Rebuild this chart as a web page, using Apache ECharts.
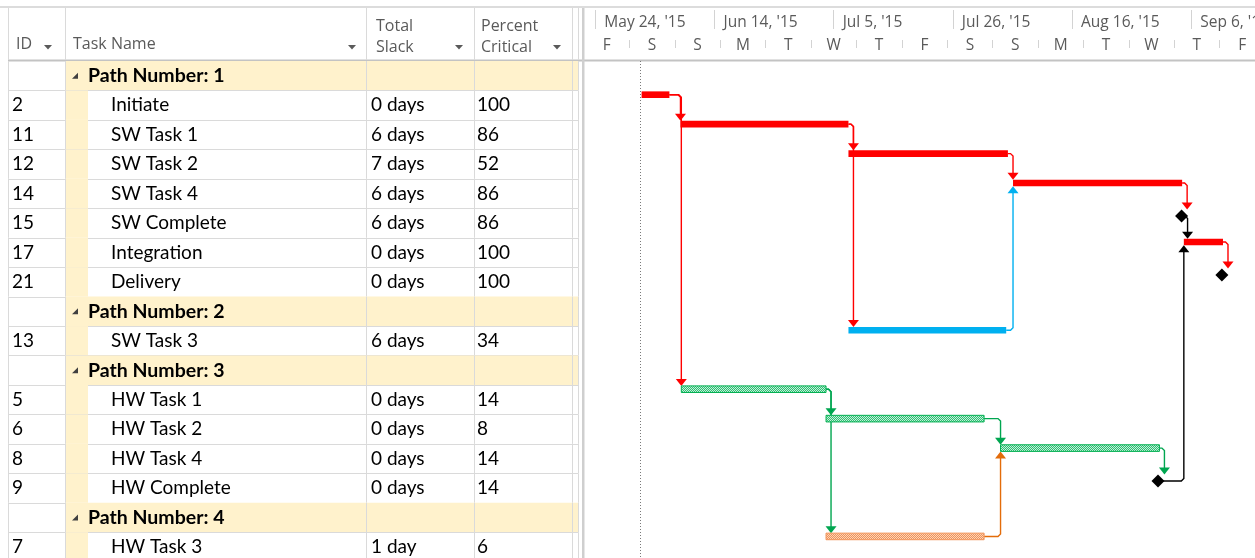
<!DOCTYPE html>
<html>
<head>
<meta charset="utf-8">
<title>Critical paths</title>
<script src="https://cdn.jsdelivr.net/npm/echarts@6/dist/echarts.min.js"></script>
<style>
  html, body { margin: 0; padding: 0; background: #fff; }
  #chart { width: 1255px; height: 558px; }
</style>
</head>
<body>
<div id="chart"></div>
<script>
// table rows, group rows have no ID
var rowIds = ['', '2', '11', '12', '14', '15', '17', '21', '', '13', '', '5', '6', '8', '9', '', '7'];
var rowNames = ['Path Number: 1', 'Initiate', 'SW Task 1', 'SW Task 2', 'SW Task 4', 'SW Complete', 'Integration', 'Delivery',
  'Path Number: 2', 'SW Task 3', 'Path Number: 3', 'HW Task 1', 'HW Task 2', 'HW Task 4', 'HW Complete',
  'Path Number: 4', 'HW Task 3'];
var totalSlack = ['', '0 days', '6 days', '7 days', '6 days', '6 days', '0 days', '0 days', '', '6 days', '',
  '0 days', '0 days', '0 days', '0 days', '', '1 day'];
var percentCritical = ['', '100', '86', '52', '86', '86', '100', '100', '', '34', '', '14', '8', '14', '14', '', '6'];

// gantt, in days after May 24 '15 (start == end -> milestone)
var taskStart = [null, 8.15, 15.0, 44.6, 73.6, 103.3, 103.7, 110.4, null, 44.6, null, 15.15, 40.65, 71.4, 99.15, null, 40.65];
var taskEnd   = [null, 13.05, 44.6, 72.7, 103.4, 103.3, 110.6, 110.4, null, 72.4, null, 40.65, 68.5, 99.4, 99.15, null, 68.5];

// predecessor -> successor (task IDs)
var linkFrom = ['2', '2', '11', '11', '12', '13', '14', '15', '17', '5', '5', '6', '7', '8', '9'];
var linkTo   = ['11', '5', '12', '13', '14', '14', '15', '17', '21', '6', '7', '8', '8', '9', '17'];

// timescale
var topTierDays = [0, 21, 42, 63, 84, 105];
var topTierLabels = ["May 24, '15", "Jun 14, '15", "Jul 5, '15", "Jul 26, '15", "Aug 16, '15", "Sep 6, '15"];
var bottomTierTicks = [6, 14, 22, 30, 38, 46, 54, 62, 70, 78, 86, 94, 102, 110];
var bottomTierDays = [2, 10, 18, 26, 34, 42, 50, 58, 66, 74, 82, 90, 98, 106, 114];
var bottomTierLabels = ['F', 'S', 'S', 'M', 'T', 'W', 'T', 'F', 'S', 'S', 'M', 'T', 'W', 'T', 'F'];
var projectStartDay = 8;

// ---- derived ----
var rowPath = [];
var curPath = 0;
rowIds.forEach(function (id, i) {
  if (id === '') curPath = +rowNames[i].split(':')[1];
  rowPath.push(curPath);
});
function rowOf(id) { return rowIds.indexOf(id); }
function isMilestone(i) { return taskStart[i] === taskEnd[i]; }

var taskRows = [];
rowIds.forEach(function (id, i) { if (id !== '') taskRows.push(i); });
var links = linkFrom.map(function (f, k) { return [rowOf(f), rowOf(linkTo[k])]; });

// ---- styles ----
var BODY_FONT = 'Lato';
var HEAD_FONT = 'Open Sans';
var HEAD_COLOR = '#5a5a5a';
var LINE_COLOR = '#dadada';
var GROUP_BG = '#FFF2CC';
var COLS = [8, 65, 366, 474, 572, 578];
var BAR_DY = -10.5, BAR_H = 6.6, MS_DY = -7, MS_HALF = 6.5;

var pathColor = { 1: '#FF0000', 2: '#00B0F0', 3: '#00A650', 4: '#E36C0A' };

function hatch(c1, c2) {
  var cv = document.createElement('canvas');
  cv.width = 2; cv.height = 2;
  var ctx = cv.getContext('2d');
  ctx.fillStyle = c1; ctx.fillRect(0, 0, 2, 2);
  ctx.fillStyle = c2; ctx.fillRect(0, 0, 1, 1); ctx.fillRect(1, 1, 1, 1);
  return { image: cv, repeat: 'repeat' };
}
var barFill = { 1: '#FF0000', 2: '#00B0F0', 3: hatch('#2EBF77', '#C4EFD7'), 4: hatch('#F0935A', '#FBD3B6') };
var barStroke = { 3: '#00B050', 4: '#F19358' };

function renderRow(params, api) {
  var i = params.dataIndex;
  var cy = api.coord([0, i])[1];
  var h = api.size([0, 1])[1];
  var top = cy - h / 2;
  var group = rowIds[i] === '';
  var kids = [];
  kids.push({ type: 'rect', shape: { x: COLS[1], y: top, width: (group ? COLS[5] : 88) - COLS[1], height: h },
    style: { fill: GROUP_BG } });
  COLS.forEach(function (x) {
    kids.push({ type: 'line', shape: { x1: x + 0.5, y1: top, x2: x + 0.5, y2: top + h }, style: { stroke: LINE_COLOR, lineWidth: 1 } });
  });
  var yb = Math.round(top + h) + 0.5;
  kids.push({ type: 'line', shape: { x1: COLS[0], y1: yb, x2: COLS[5], y2: yb }, style: { stroke: LINE_COLOR, lineWidth: 1 } });
  if (group) {
    kids.push({ type: 'polygon', shape: { points: [[78, cy - 3], [78, cy + 3], [72, cy + 3]] }, style: { fill: '#404040' } });
    kids.push({ type: 'text', style: { text: rowNames[i], x: 88, y: cy, verticalAlign: 'middle',
      fontFamily: BODY_FONT, fontSize: 19.5, fontWeight: 'bold', fill: '#000' } });
  } else {
    [[12, rowIds[i]], [111, rowNames[i]], [371, totalSlack[i]], [477, percentCritical[i]]].forEach(function (c) {
      kids.push({ type: 'text', style: { text: c[1], x: c[0], y: cy, verticalAlign: 'middle',
        fontFamily: BODY_FONT, fontSize: 19, fill: '#000' } });
    });
  }
  return { type: 'group', children: kids };
}

function renderTask(params, api) {
  var i = api.value(0);
  var p0 = api.coord([api.value(1), i]);
  var p1 = api.coord([api.value(2), i]);
  if (isMilestone(i)) {
    var x = p0[0], y = p0[1] + MS_DY;
    return { type: 'polygon', shape: { points: [[x, y - MS_HALF], [x + MS_HALF, y], [x, y + MS_HALF], [x - MS_HALF, y]] },
      style: { fill: '#000' } };
  }
  var p = rowPath[i];
  return { type: 'rect', shape: { x: p0[0], y: p0[1] + BAR_DY - BAR_H / 2, width: p1[0] - p0[0], height: BAR_H },
    style: { fill: barFill[p], stroke: barStroke[p] || null, lineWidth: 1 } };
}

function renderLink(params, api) {
  var a = links[params.dataIndex][0], b = links[params.dataIndex][1];
  var msA = isMilestone(a), msB = isMilestone(b);
  var pe = api.coord([taskEnd[a], a]);
  var ps = api.coord([taskStart[b], b]);
  var xa = msA ? pe[0] + 1 : pe[0];
  var ya = pe[1] + (msA ? MS_DY : BAR_DY);
  var yb = ps[1] + (msB ? MS_DY : BAR_DY);
  var half = msB ? MS_HALF : BAR_H / 2;
  var xv = Math.max(ps[0], xa + 5);
  var down = b > a;
  var dir = down ? -1 : 1;
  var tip = down ? yb - half : yb + half;
  var color = msA ? '#000' : pathColor[rowPath[a]];
  var pts = [[xa, ya]];
  if (xv - xa > 3) pts.push([xv - 2.5, ya], [xv, ya - dir * 2.5]);
  pts.push([xv, tip + dir * 6]);
  return { type: 'group', children: [
    { type: 'polyline', shape: { points: pts }, style: { stroke: color, lineWidth: 1.4, fill: null } },
    { type: 'polygon', shape: { points: [[xv - 5.5, tip + dir * 7], [xv + 5.5, tip + dir * 7], [xv, tip]] }, style: { fill: color } }
  ] };
}

// ---- header (static) ----
var header = [];
header.push({ type: 'rect', shape: { x: 0, y: 0, width: 1255, height: 61 }, style: { fill: '#fff' }, z: -1 });
header.push({ type: 'line', shape: { x1: 0, y1: 7, x2: 1255, y2: 7 }, style: { stroke: '#dcdcdc', lineWidth: 2 } });
header.push({ type: 'line', shape: { x1: 8, y1: 60.5, x2: 1255, y2: 60.5 }, style: { stroke: '#c3c3c3', lineWidth: 2 } });
COLS.forEach(function (x) {
  header.push({ type: 'line', shape: { x1: x + 0.5, y1: 8, x2: x + 0.5, y2: 60 }, style: { stroke: LINE_COLOR, lineWidth: 1 } });
});
header.push({ type: 'rect', shape: { x: 582, y: 8, width: 2.5, height: 550 }, style: { fill: '#cfcfcf' } });
[[16, 44, 'ID'], [73, 44, 'Task Name'], [376, 26, 'Total'], [376, 47, 'Slack'], [481, 26, 'Percent'], [481, 47, 'Critical']]
  .forEach(function (t) {
    header.push({ type: 'text', style: { text: t[2], x: t[0], y: t[1], verticalAlign: 'middle',
      fontFamily: HEAD_FONT, fontSize: 16, fill: HEAD_COLOR } });
  });
[48, 352, 459, 557].forEach(function (x) {
  header.push({ type: 'polygon', shape: { points: [[x - 4, 45], [x + 4, 45], [x, 49.5]] }, style: { fill: HEAD_COLOR } });
});

var chart = echarts.init(document.getElementById('chart'));
var option = {
  animation: false,
  backgroundColor: '#fff',
  grid: [
    { left: 8, top: 61, width: 570, height: 500.65, containLabel: false, outerBoundsMode: 'none' },
    { left: 584, top: 61, width: 671, height: 500.65, containLabel: false, outerBoundsMode: 'none' }
  ],
  xAxis: [
    { gridIndex: 0, type: 'value', min: 0, max: 570, show: false },
    {
      gridIndex: 1, type: 'value', min: -2, max: 116.24, position: 'top', offset: 51,
      axisLine: { show: false },
      splitLine: { show: false },
      axisTick: { show: true, inside: true, length: 19, customValues: topTierDays, lineStyle: { color: '#d3d3d3' } },
      axisLabel: {
        inside: true, customValues: topTierDays, align: 'left', verticalAlign: 'middle', margin: 13,
        padding: [0, 0, 0, 9], color: HEAD_COLOR, fontFamily: HEAD_FONT, fontSize: 15.5,
        formatter: function (v) { return topTierLabels[topTierDays.indexOf(v)]; }
      }
    },
    {
      gridIndex: 1, type: 'value', min: -2, max: 116.24, position: 'top', offset: 21,
      axisLine: { show: false },
      splitLine: { show: false },
      axisTick: { show: true, inside: true, length: 8, customValues: bottomTierTicks, lineStyle: { color: '#d3d3d3' } },
      axisLabel: {
        inside: true, customValues: bottomTierDays, align: 'center', verticalAlign: 'middle', margin: 6,
        color: HEAD_COLOR, fontFamily: HEAD_FONT, fontSize: 15.5,
        formatter: function (v) { return bottomTierLabels[bottomTierDays.indexOf(v)]; }
      }
    }
  ],
  yAxis: [
    { gridIndex: 0, type: 'category', data: rowNames, inverse: true, show: false },
    { gridIndex: 1, type: 'category', data: rowNames, inverse: true, show: false }
  ],
  graphic: header,
  series: [
    {
      name: 'table', type: 'custom', xAxisIndex: 0, yAxisIndex: 0,
      renderItem: renderRow,
      data: rowNames.map(function (n, i) { return [0, i]; })
    },
    {
      name: 'start', type: 'line', xAxisIndex: 1, yAxisIndex: 1, data: [],
      markLine: {
        silent: true, symbol: ['none', 'none'], label: { show: false },
        lineStyle: { color: '#7a7a7a', type: [1, 2], width: 1 },
        data: [{ xAxis: projectStartDay }]
      }
    },
    {
      name: 'links', type: 'custom', xAxisIndex: 1, yAxisIndex: 1,
      renderItem: renderLink,
      data: links.map(function (l) { return [taskEnd[l[0]], l[0]]; })
    },
    {
      name: 'tasks', type: 'custom', xAxisIndex: 1, yAxisIndex: 1,
      renderItem: renderTask,
      encode: { x: [1, 2], y: 0 },
      data: taskRows.map(function (i) { return [i, taskStart[i], taskEnd[i]]; })
    }
  ]
};
chart.setOption(option);
</script>
</body>
</html>
